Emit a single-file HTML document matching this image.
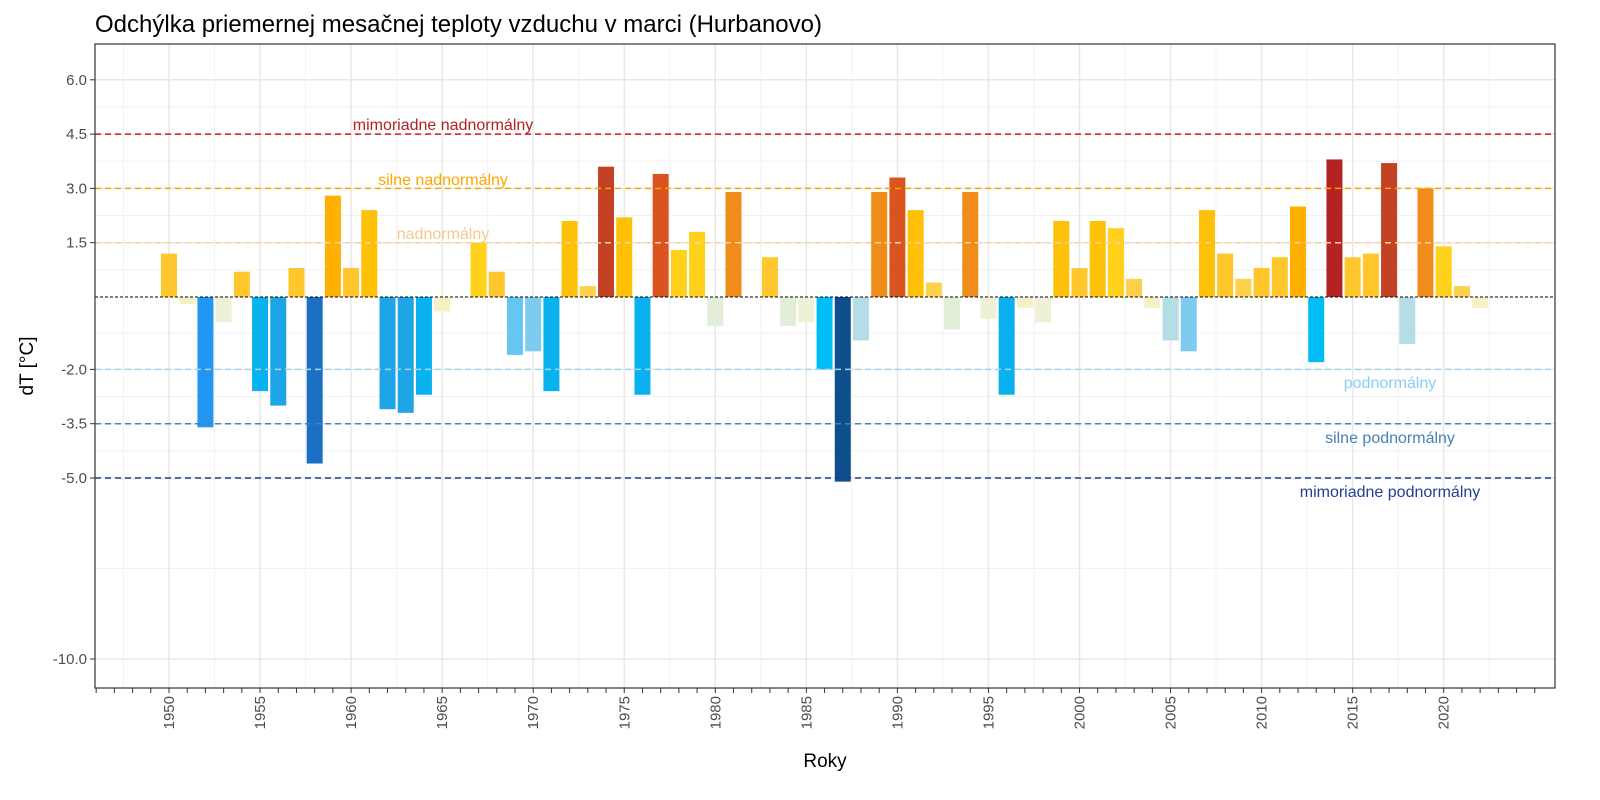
<!DOCTYPE html>
<html><head><meta charset="utf-8"><style>
body{margin:0;background:#fff;}
svg{display:block;font-family:"Liberation Sans",Arial,sans-serif;}
</style></head><body>
<svg id="s" width="1600" height="800" xmlns="http://www.w3.org/2000/svg"></svg>
<script>
const s=document.getElementById('s');
const L=95,R=1555,T=44,B=688;
const Y=v=>297-v*36.2, X=yr=>169+(yr-1950)*18.21;
let h='';
h+=`<text x="95" y="32" font-size="24" fill="#000">Odchýlka priemernej mesačnej teploty vzduchu v marci (Hurbanovo)</text>`;
// minor grid
[5.25,3.75,2.25,0.75,-1,-2.75,-4.25,-7.5].forEach(v=>h+=`<line x1="${L}" x2="${R}" y1="${Y(v)}" y2="${Y(v)}" stroke="#f2f2f2" stroke-width="1"/>`);
for(let yr=1947.5;yr<2026;yr+=5)h+=`<line x1="${X(yr)}" x2="${X(yr)}" y1="${T}" y2="${B}" stroke="#f2f2f2"/>`;
[6,4.5,3,1.5,-2,-3.5,-5,-10].forEach(v=>h+=`<line x1="${L}" x2="${R}" y1="${Y(v)}" y2="${Y(v)}" stroke="#e8e8e8" stroke-width="1.5"/>`);
for(let yr=1950;yr<=2020;yr+=5)h+=`<line x1="${X(yr)}" x2="${X(yr)}" y1="${T}" y2="${B}" stroke="#e8e8e8" stroke-width="1.5"/>`;
const vals=[1.2,-0.2,-3.6,-0.7,0.7,-2.6,-3.0,0.8,-4.6,2.8,0.8,2.4,-3.1,-3.2,-2.7,-0.4,0,1.5,0.7,-1.6,-1.5,-2.6,2.1,0.3,3.6,2.2,-2.7,3.4,1.3,1.8,-0.8,2.9,0,1.1,-0.8,-0.7,-2.0,-5.1,-1.2,2.9,3.3,2.4,0.4,-0.9,2.9,-0.6,-2.7,-0.3,-0.7,2.1,0.8,2.1,1.9,0.5,-0.3,-1.2,-1.5,2.4,1.2,0.5,0.8,1.1,2.5,-1.8,3.8,1.1,1.2,3.7,-1.3,3.0,1.4,0.3,-0.3];
function col(v){
 if(v>=0){const st=[[0,'#fde8a0'],[0.35,'#ffd04a'],[0.7,'#ffc72c'],[1.3,'#ffd11a'],[2,'#ffc107'],[2.5,'#ffb000'],[2.9,'#f08c1a'],[3.3,'#d9541f'],[3.6,'#c44224'],[3.8,'#b42222']];
  let c=st[0][1];for(const [t,cc] of st)if(v>=t-0.05)c=cc;return c;}
 const st=[[0,'#f6f0c6'],[-0.6,'#eef1d6'],[-0.85,'#e3eed9'],[-1.1,'#b5dde6'],[-1.4,'#a8d8ea'],[-1.5,'#7dccef'],[-1.6,'#66c6f2'],[-1.8,'#00bef5'],[-2.6,'#09b2ef'],[-3.0,'#1ea5e8'],[-3.5,'#2196f3'],[-4.5,'#1b6fc5'],[-5,'#0e4e8c']];
 let c=st[0][1];for(const [t,cc] of st)if(v<=t+0.05)c=cc;return c;}
vals.forEach((v,i)=>{if(!v)return;const yr=1950+i,x=X(yr)-8;const y0=Y(Math.max(v,0)),hh=Math.abs(v)*36.2;
 h+=`<rect x="${x}" y="${y0}" width="16" height="${hh}" fill="${col(v)}"/>`;});
const lines=[[4.5,'#d7191c'],[3,'#ffa500'],[1.5,'#f6d3a6'],[-2,'#a6d6ee'],[-3.5,'#4682b4'],[-5,'#1f3a93']];
lines.forEach(([v,c])=>h+=`<line x1="${L}" x2="${R}" y1="${Y(v)}" y2="${Y(v)}" stroke="${c}" stroke-width="1.5" stroke-dasharray="6,4"/>`);
h+=`<line x1="${L}" x2="${R}" y1="${Y(0)}" y2="${Y(0)}" stroke="#000" stroke-width="1" stroke-dasharray="3,2"/>`;
const labs=[[443,130,'mimoriadne nadnormálny','#b22222'],[443,185,'silne nadnormálny','#ffa500'],[443,239,'nadnormálny','#f4c990'],[1390,388,'podnormálny','#87cefa'],[1390,443,'silne podnormálny','#4682b4'],[1390,497,'mimoriadne podnormálny','#233f94']];
labs.forEach(([x,y,t,c])=>h+=`<text x="${x}" y="${y}" font-size="16" fill="${c}" text-anchor="middle">${t}</text>`);
h+=`<rect x="${L}" y="${T}" width="${R-L}" height="${B-T}" fill="none" stroke="#333" stroke-width="1.2"/>`;
[[6,'6.0'],[4.5,'4.5'],[3,'3.0'],[1.5,'1.5'],[-2,'-2.0'],[-3.5,'-3.5'],[-5,'-5.0'],[-10,'-10.0']].forEach(([v,t])=>{
 h+=`<line x1="${L-5}" x2="${L}" y1="${Y(v)}" y2="${Y(v)}" stroke="#333"/><text x="${L-8}" y="${Y(v)+5}" font-size="15" fill="#4d4d4d" text-anchor="end">${t}</text>`;});
for(let yr=1946;yr<=2025;yr++)h+=`<line x1="${X(yr)}" x2="${X(yr)}" y1="${B}" y2="${B+5}" stroke="#333"/>`;
for(let yr=1950;yr<=2020;yr+=5)h+=`<text transform="translate(${X(yr)+5},${B+8}) rotate(-90)" font-size="15" fill="#4d4d4d" text-anchor="end">${yr}</text>`;
h+=`<text x="825" y="767" font-size="19" text-anchor="middle">Roky</text>`;
h+=`<text transform="translate(33,366) rotate(-90)" font-size="19" text-anchor="middle">dT [°C]</text>`;
s.innerHTML=h;
</script>
</body></html>
